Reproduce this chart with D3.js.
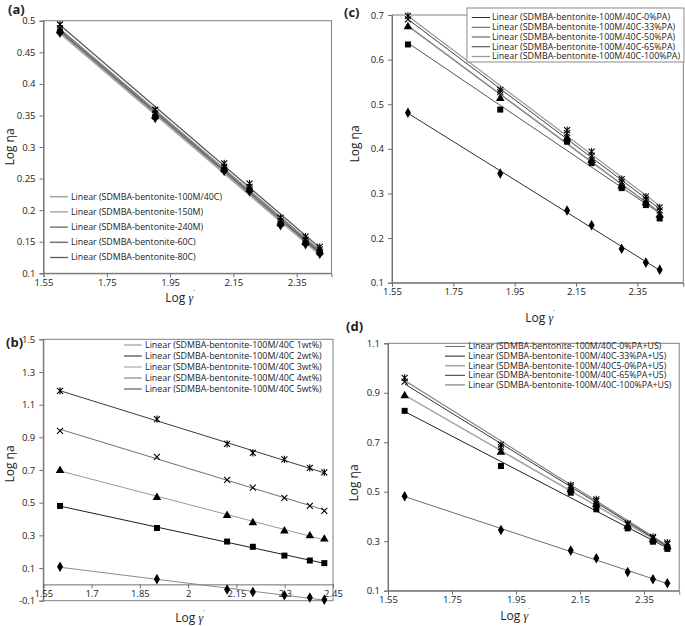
<!DOCTYPE html>
<html><head><meta charset="utf-8">
<script src="https://cdn.jsdelivr.net/npm/d3@7"></script>
<style>
html,body{margin:0;padding:0;background:#fff;}
svg{display:block;}
text{font-family:"Open Sans",sans-serif;fill:#222;}
</style></head>
<body><svg id="c" width="685" height="626"></svg>
<script>
// ---------- DATA ----------
const shearLog = [1.602, 1.903, 2.121, 2.201, 2.299, 2.378, 2.423];

// panel (a)
const aNames = ["Linear (SDMBA-bentonite-100M/40C)","Linear (SDMBA-bentonite-150M)","Linear (SDMBA-bentonite-240M)","Linear (SDMBA-bentonite-60C)","Linear (SDMBA-bentonite-80C)"];
const a100M40C = [0.481, 0.346, 0.262, 0.230, 0.176, 0.146, 0.131];
const a150M    = [0.483, 0.348, 0.264, 0.232, 0.178, 0.148, 0.133];
const a240M    = [0.485, 0.350, 0.266, 0.234, 0.180, 0.150, 0.135];
const a60C     = [0.488, 0.353, 0.269, 0.237, 0.183, 0.153, 0.138];
const a80C     = [0.494, 0.359, 0.274, 0.242, 0.188, 0.158, 0.142];
const aXTicks = [1.55, 1.75, 1.95, 2.15, 2.35];
const aYTicks = [0.1, 0.15, 0.2, 0.25, 0.3, 0.35, 0.4, 0.45, 0.5];

// panel (b)
const bNames = ["Linear (SDMBA-bentonite-100M/40C 1wt%)","Linear (SDMBA-bentonite-100M/40C 2wt%)","Linear (SDMBA-bentonite-100M/40C 3wt%)","Linear (SDMBA-bentonite-100M/40C 4wt%)","Linear (SDMBA-bentonite-100M/40C 5wt%)"];
const b1wt = [0.108, 0.032, -0.031, -0.047, -0.066, -0.080, -0.094];
const b2wt = [0.480, 0.345, 0.262, 0.230, 0.176, 0.146, 0.130];
const b3wt = [0.700, 0.535, 0.425, 0.380, 0.330, 0.300, 0.280];
const b4wt = [0.940, 0.780, 0.640, 0.592, 0.530, 0.480, 0.450];
const b5wt = [1.184, 1.011, 0.860, 0.805, 0.765, 0.713, 0.685];
const bXTicks = [1.55, 1.7, 1.85, 2, 2.15, 2.3, 2.45];
const bYTicks = [-0.1, 0.1, 0.3, 0.5, 0.7, 0.9, 1.1, 1.3, 1.5];

// panel (c)
const cNames = ["Linear (SDMBA-bentonite-100M/40C-0%PA)","Linear (SDMBA-bentonite-100M/40C-33%PA)","Linear (SDMBA-bentonite-100M/40C-50%PA)","Linear (SDMBA-bentonite-100M/40C-65%PA)","Linear (SDMBA-bentonite-100M/40C-100%PA)"];
const c0PA   = [0.481, 0.345, 0.262, 0.229, 0.176, 0.145, 0.129];
const c33PA  = [0.634, 0.488, 0.416, 0.368, 0.312, 0.274, 0.244];
const c50PA  = [0.675, 0.514, 0.425, 0.375, 0.318, 0.280, 0.252];
const c65PA  = [0.690, 0.527, 0.435, 0.385, 0.326, 0.287, 0.262];
const c100PA = [0.698, 0.532, 0.442, 0.394, 0.332, 0.293, 0.269];
const cXTicks = [1.55, 1.75, 1.95, 2.15, 2.35];
const cYTicks = [0.1, 0.2, 0.3, 0.4, 0.5, 0.6, 0.7];

// panel (d)
const dNames = ["Linear (SDMBA-bentonite-100M/40C-0%PA+US)","Linear (SDMBA-bentonite-100M/40C-33%PA+US)","Linear (SDMBA-bentonite-100M/40C5-0%PA+US)","Linear (SDMBA-bentonite-100M/40C-65%PA+US)","Linear (SDMBA-bentonite-100M/40C-100%PA+US)"];
const d0PA   = [0.482, 0.345, 0.262, 0.231, 0.176, 0.146, 0.130];
const d33PA  = [0.827, 0.604, 0.496, 0.429, 0.352, 0.298, 0.269];
const d50PA  = [0.890, 0.662, 0.510, 0.450, 0.362, 0.308, 0.280];
const d65PA  = [0.945, 0.680, 0.520, 0.462, 0.368, 0.314, 0.288];
const d100PA = [0.960, 0.690, 0.527, 0.469, 0.372, 0.318, 0.294];
const dXTicks = [1.55, 1.75, 1.95, 2.15, 2.35];
const dYTicks = [0.1, 0.3, 0.5, 0.7, 0.9, 1.1];

// ---------- LAYOUT ----------
const markerKinds = ["diamond","square","triangle","x","star"];
const panels = [
  {tag:"(a)", tagPos:[8,14], names:aNames, series:[a100M40C,a150M,a240M,a60C,a80C],
   xd:[1.55,2.46], xr:[43.5,331.5], yd:[0.1,0.5], yr:[273.3,20.7], xt:aXTicks, yt:aYTicks,
   xAxisY:null, lineCols:["#a8a8a8","#8c8c8c","#4a4a4a","#7a7a7a","#5a5a5a"], lineW:[1.6,1.1,1.1,1.6,1.3],
   leg:{lx0:50,lx1:68,tx:71,y0:196.7,dy:15.2,w:151}, yTitle:[14,147], xTitle:[180,302], box:null},
  {tag:"(b)", tagPos:[6,347], names:bNames, series:[b1wt,b2wt,b3wt,b4wt,b5wt],
   xd:[1.55,2.45], xr:[43.3,333], yd:[-0.1,1.5], yr:[600.7,339.3], xt:bXTicks, yt:bYTicks,
   xAxisY:0, lineCols:["#8a8a8a","#1e1e1e","#9a9a9a","#707070","#3c3c3c"], lineW:[1,1,1,1,1],
   leg:{lx0:124,lx1:141.7,tx:145,y0:345,dy:11,w:176.7}, yTitle:[14,464], xTitle:[190,622], box:null},
  {tag:"(c)", tagPos:[344,17], names:cNames, series:[c0PA,c33PA,c50PA,c65PA,c100PA],
   xd:[1.55,2.5], xr:[392,683.3], yd:[0.1,0.7], yr:[282.7,15], xt:cXTicks, yt:cYTicks,
   xAxisY:null, lineCols:["#2e2e2e","#555","#8a8a8a","#3e3e3e","#9a9a9a"], lineW:[1,1,1.5,1,1.3],
   leg:{lx0:471.7,lx1:490,tx:492,y0:17.5,dy:9.75,w:178}, yTitle:[359,144], xTitle:[540,322], box:[467,8,684,62]},
  {tag:"(d)", tagPos:[346,331], names:dNames, series:[d0PA,d33PA,d50PA,d65PA,d100PA],
   xd:[1.55,2.46], xr:[388,679.2], yd:[0.1,1.1], yr:[590.7,343.3], xt:dXTicks, yt:dYTicks,
   xAxisY:null, lineCols:["#6e6e6e","#1e1e1e","#a8a8a8","#333","#7e7e7e"], lineW:[1,1,1.6,1,1.2],
   leg:{lx0:445,lx1:465,tx:468.3,y0:346.5,dy:9.6,w:193}, yTitle:[358,483], xTitle:[515,620], box:null}
];

function linfit(xs, ys){
  const n = xs.length, mx = d3.mean(xs), my = d3.mean(ys);
  let sxy=0, sxx=0;
  for(let i=0;i<n;i++){ sxy += (xs[i]-mx)*(ys[i]-my); sxx += (xs[i]-mx)*(xs[i]-mx); }
  const m = sxy/sxx; return {m, b: my - m*mx};
}
function fmt(v){ return String(+v.toFixed(2)); }

const svg = d3.select("#c");

function marker(g, kind, x, y){
  if(kind==="diamond"){
    g.append("path").attr("d", d3.symbol(d3.symbolDiamond, 32)()).attr("transform",`translate(${x},${y})`).attr("fill","#000");
  } else if(kind==="square"){
    g.append("path").attr("d", d3.symbol(d3.symbolSquare, 36)()).attr("transform",`translate(${x},${y})`).attr("fill","#000");
  } else if(kind==="triangle"){
    g.append("path").attr("d", d3.symbol(d3.symbolTriangle, 32)()).attr("transform",`translate(${x},${y+0.5})`).attr("fill","#000");
  } else if(kind==="x"){
    g.append("path").attr("d","M-3,-3L3,3M-3,3L3,-3").attr("transform",`translate(${x},${y})`).attr("stroke","#000").attr("stroke-width",1.1).attr("fill","none");
  } else {
    g.append("path").attr("d","M-3,-3L3,3M-3,3L3,-3M0,-3.6L0,3.6").attr("transform",`translate(${x},${y})`).attr("stroke","#000").attr("stroke-width",1.1).attr("fill","none");
  }
}

panels.forEach(p=>{
  const g = svg.append("g");
  const x = d3.scaleLinear().domain(p.xd).range(p.xr);
  const y = d3.scaleLinear().domain(p.yd).range(p.yr);

  // plot frame
  g.append("rect").attr("x",p.xr[0]).attr("y",p.yr[1]).attr("width",p.xr[1]-p.xr[0]).attr("height",p.yr[0]-p.yr[1])
    .attr("fill","none").attr("stroke","#808080").attr("stroke-width",1);

  // axes
  const ya = d3.axisLeft(y).tickValues(p.yt).tickSize(4).tickPadding(4).tickFormat(fmt);
  const yg = g.append("g").attr("transform",`translate(${p.xr[0]},0)`).call(ya);
  const xPos = p.xAxisY===null ? p.yr[0] : y(p.xAxisY);
  const xa = d3.axisBottom(x).tickValues(p.xt).tickSize(4).tickPadding(2).tickFormat(fmt);
  const xg = g.append("g").attr("transform",`translate(0,${xPos})`).call(xa);
  [yg,xg].forEach(a=>{
    a.selectAll(".domain").attr("stroke","#707070");
    a.selectAll(".tick line").attr("stroke","#707070");
    a.selectAll("text").attr("font-family","Open Sans, sans-serif").attr("font-size",9.5).attr("fill","#222");
  });

  // trend lines
  p.series.forEach((s,i)=>{
    const f = linfit(shearLog, s);
    const x0 = shearLog[0], x1 = shearLog[shearLog.length-1];
    g.append("line").attr("x1",x(x0)).attr("y1",y(f.m*x0+f.b)).attr("x2",x(x1)).attr("y2",y(f.m*x1+f.b))
      .attr("stroke",p.lineCols[i]).attr("stroke-width",p.lineW[i]);
  });
  // markers
  p.series.forEach((s,i)=>{
    s.forEach((v,j)=> marker(g, markerKinds[i], x(shearLog[j]), y(v)));
  });

  // legend
  if(p.box){
    g.append("rect").attr("x",p.box[0]).attr("y",p.box[1]).attr("width",p.box[2]-p.box[0]).attr("height",p.box[3]-p.box[1])
      .attr("fill","#fff").attr("stroke","#8a8a8a");
  }
  const texts = [];
  p.names.forEach((n,i)=>{
    const yy = p.leg.y0 + i*p.leg.dy;
    g.append("line").attr("x1",p.leg.lx0).attr("x2",p.leg.lx1).attr("y1",yy).attr("y2",yy)
      .attr("stroke",p.lineCols[i]).attr("stroke-width",p.lineW[i]);
    texts.push(g.append("text").attr("x",p.leg.tx).attr("y",yy).attr("dy","0.35em").attr("font-size",8.3).text(n));
  });
  // stretch the (condensed-height) legend text so the first entry spans the measured width
  const ratio = p.leg.w / texts[0].node().getComputedTextLength();
  texts.forEach(t=>{
    const w = t.node().getComputedTextLength();
    t.attr("textLength",(w*ratio).toFixed(1)).attr("lengthAdjust","spacingAndGlyphs");
  });

  // titles
  g.append("text").attr("x",p.tagPos[0]).attr("y",p.tagPos[1]).attr("font-family","Liberation Serif, Times New Roman, serif")
    .attr("font-weight","bold").attr("font-size",13).attr("fill","#111").text(p.tag);
  g.append("text").attr("transform",`translate(${p.yTitle[0]},${p.yTitle[1]}) rotate(-90)`)
    .attr("text-anchor","middle").attr("font-size",12).text("Log ηa");
  const xt = g.append("text").attr("x",p.xTitle[0]).attr("y",p.xTitle[1]).attr("text-anchor","middle").attr("font-size",12);
  xt.append("tspan").text("Log ");
  xt.append("tspan").attr("font-family","Liberation Serif, serif").attr("font-style","italic").text("γ");
  xt.append("tspan").attr("font-size",9).attr("dy",-5).text("˙");
});
</script></body></html>
